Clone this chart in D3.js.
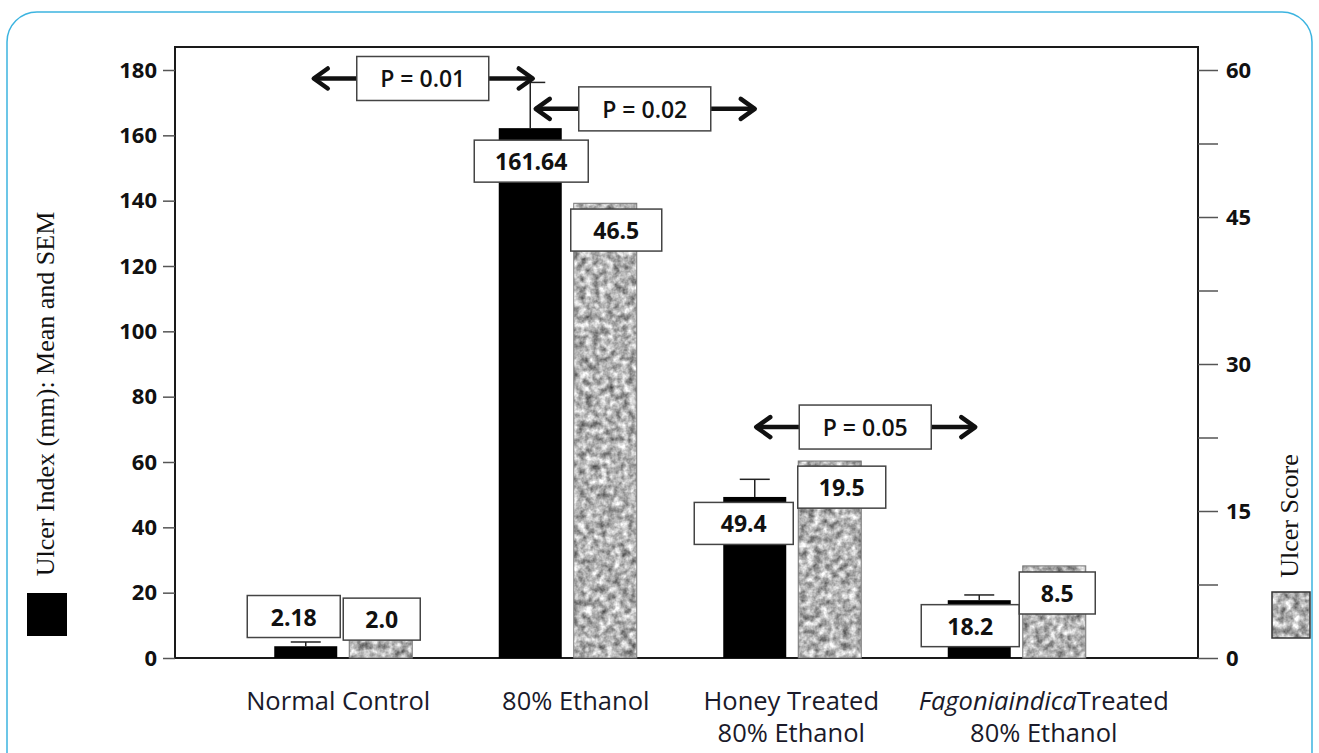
<!DOCTYPE html>
<html>
<head>
<meta charset="utf-8">
<script src="https://cdn.jsdelivr.net/npm/d3@7"></script>
<style>
  body { margin: 0; background: #fff; }
  svg { display: block; }
</style>
</head>
<body>
<div id="chart-area"></div>
<script>
// data
const groups = ['Normal Control', '80% Ethanol', 'Honey Treated|80% Ethanol', 'Fagoniaindica Treated|80% Ethanol'];
const ulcerIndex = [3.6, 162.2, 49.3, 17.7];
const ulcerIndexSEM = [1.3, 14.0, 5.4, 1.6];
const ulcerScore = [2.0, 46.4, 20.1, 9.4];
const indexLabels = ['2.18', '161.64', '49.4', '18.2'];
const scoreLabels = ['2.0', '46.5', '19.5', '8.5'];
const leftTicks = [0, 20, 40, 60, 80, 100, 120, 140, 160, 180];
const rightTicks = [0, 7.5, 15, 22.5, 30, 37.5, 45, 52.5, 60];
const pLabels = ['P = 0.01', 'P = 0.02', 'P = 0.05'];

// annotation placement (group index, px offset from group centre, height on left axis)
const pPlace = [
  { g: 1, dx: -145, y: 177.4 },
  { g: 1, dx: 77, y: 168.1 },
  { g: 2, dx: 73, y: 70.7 }
];
// value box placement: px offset from bar centre, height on left axis, box width
const indexBox = [{ dx: -12, y: 12.7, w: 93 }, { dx: 1, y: 152.1, w: 114 }, { dx: -11, y: 41.2, w: 99 }, { dx: -9, y: 9.9, w: 98 }];
const scoreBox = [{ dx: 1, y: 11.9, w: 77 }, { dx: 11, y: 131, w: 91 }, { dx: 12, y: 52.3, w: 88 }, { dx: 3, y: 19.9, w: 76 }];
const capHalf = [15, 0, 15, 15];
const labelShift = [-5, 8, -1, 27];

const W = 1319, H = 753;
const plot = { left: 175, right: 1198, top: 47, bottom: 658 };

const svg = d3.select('#chart-area')
  .append('svg')
    .attr('width', W)
    .attr('height', H);

const defs = svg.append('defs');
const filt = defs.append('filter')
  .attr('id', 'granite')
  .attr('x', 0).attr('y', 0).attr('width', 1).attr('height', 1)
  .attr('color-interpolation-filters', 'sRGB');
filt.append('feTurbulence')
  .attr('type', 'fractalNoise')
  .attr('baseFrequency', 0.14)
  .attr('numOctaves', 3)
  .attr('seed', 4)
  .attr('result', 'noise');
filt.append('feColorMatrix')
  .attr('in', 'noise')
  .attr('type', 'matrix')
  .attr('values', '1.0 0 0 0 0.2  1.0 0 0 0 0.2  1.0 0 0 0 0.2  0 0 0 0 1')
  .attr('result', 'grey');
filt.append('feComposite')
  .attr('in', 'grey')
  .attr('in2', 'SourceGraphic')
  .attr('operator', 'in');

// card outline
svg.append('rect')
  .attr('x', 7).attr('y', 12)
  .attr('width', 1305).attr('height', 800)
  .attr('rx', 30)
  .attr('fill', 'none')
  .attr('stroke', '#3cb4e0')
  .attr('stroke-width', 1.5);

const x = d3.scaleBand()
  .domain(groups)
  .range([231, 1129]);

const xSub = d3.scaleBand()
  .domain(['index', 'score'])
  .range([-69, 69])
  .paddingInner(0.16);

const yL = d3.scaleLinear().domain([0, 180]).range([plot.bottom, 70]);
const yR = d3.scaleLinear().domain([0, 60]).range([plot.bottom, 70]);

const cx = g => x(groups[g]) + x.bandwidth() / 2;

// frame
svg.append('rect')
  .attr('x', plot.left).attr('y', plot.top)
  .attr('width', plot.right - plot.left)
  .attr('height', plot.bottom - plot.top)
  .attr('fill', 'none')
  .attr('stroke', '#1a1a1a')
  .attr('stroke-width', 2);

// axes
const yAxisL = d3.axisLeft(yL).tickValues(leftTicks).tickSize(12).tickPadding(6);
const yAxisR = d3.axisRight(yR).tickValues(rightTicks).tickSize(20).tickPadding(8)
  .tickFormat(d => d % 15 === 0 ? d : '');

svg.append('g')
  .attr('class', 'y-axis')
  .attr('transform', 'translate(' + plot.left + ',0)')
  .call(yAxisL);
svg.append('g')
  .attr('class', 'y-axis-r')
  .attr('transform', 'translate(' + plot.right + ',0)')
  .call(yAxisR);

svg.selectAll('.y-axis path, .y-axis-r path').remove();
svg.selectAll('.y-axis line, .y-axis-r line').attr('stroke', '#555').attr('stroke-width', 1.5);
svg.selectAll('.y-axis text, .y-axis-r text')
  .attr('font-family', 'Open Sans')
  .attr('font-weight', 700)
  .attr('font-size', '22px')
  .attr('fill', '#111');

// bars
const bars = svg.append('g');
groups.forEach((g, i) => {
  const c = cx(i);
  bars.append('rect')
    .attr('x', c + xSub('index'))
    .attr('y', yL(ulcerIndex[i]))
    .attr('width', xSub.bandwidth())
    .attr('height', yL(0) - yL(ulcerIndex[i]))
    .attr('fill', '#000');

  bars.append('rect')
    .attr('x', c + xSub('score'))
    .attr('y', yR(ulcerScore[i]))
    .attr('width', xSub.bandwidth())
    .attr('height', yR(0) - yR(ulcerScore[i]))
    .attr('fill', '#aaa')
    .attr('filter', 'url(#granite)');
  bars.append('rect')
    .attr('x', c + xSub('score'))
    .attr('y', yR(ulcerScore[i]))
    .attr('width', xSub.bandwidth())
    .attr('height', yR(0) - yR(ulcerScore[i]))
    .attr('fill', 'none')
    .attr('stroke', '#777')
    .attr('stroke-width', 1);

  // SEM whisker
  const bx = c + xSub('index') + xSub.bandwidth() / 2;
  const top = yL(ulcerIndex[i] + ulcerIndexSEM[i]);
  bars.append('line')
    .attr('x1', bx).attr('x2', bx)
    .attr('y1', yL(ulcerIndex[i])).attr('y2', top)
    .attr('stroke', '#222').attr('stroke-width', 1.5);
  bars.append('line')
    .attr('x1', bx - capHalf[i]).attr('x2', bx + 15)
    .attr('y1', top).attr('y2', top)
    .attr('stroke', '#222').attr('stroke-width', 1.5);
});

// value boxes
const boxH = 42;
function valueBox(cxp, yVal, w, label) {
  const yc = yL(yVal);
  const g = svg.append('g');
  g.append('rect')
    .attr('x', cxp - w / 2).attr('y', yc - boxH / 2)
    .attr('width', w).attr('height', boxH)
    .attr('fill', '#fff')
    .attr('stroke', '#444')
    .attr('stroke-width', 1.5);
  g.append('text')
    .attr('x', cxp).attr('y', yc)
    .attr('text-anchor', 'middle')
    .attr('dominant-baseline', 'central')
    .attr('font-family', 'Open Sans')
    .attr('font-weight', 700)
    .attr('font-size', '23px')
    .attr('fill', '#111')
    .text(label);
}
groups.forEach((g, i) => {
  const c = cx(i);
  valueBox(c + xSub('index') + xSub.bandwidth() / 2 + indexBox[i].dx, indexBox[i].y, indexBox[i].w, indexLabels[i]);
  valueBox(c + xSub('score') + xSub.bandwidth() / 2 + scoreBox[i].dx, scoreBox[i].y, scoreBox[i].w, scoreLabels[i]);
});

// P value double arrows
function chevron(g, tx, ty, dir) {
  g.append('path')
    .attr('d', 'M' + (tx - dir * 14) + ',' + (ty - 10) + 'L' + tx + ',' + ty + 'L' + (tx - dir * 14) + ',' + (ty + 10))
    .attr('fill', 'none')
    .attr('stroke', '#111')
    .attr('stroke-width', 4.5)
    .attr('stroke-linecap', 'round')
    .attr('stroke-linejoin', 'round');
}
pLabels.forEach((p, i) => {
  const pc = cx(pPlace[i].g) + pPlace[i].dx;
  const py = yL(pPlace[i].y);
  const g = svg.append('g');
  g.append('line')
    .attr('x1', pc - 109).attr('x2', pc + 110)
    .attr('y1', py).attr('y2', py)
    .attr('stroke', '#111').attr('stroke-width', 4.5);
  chevron(g, pc - 109, py, -1);
  chevron(g, pc + 110, py, 1);
  g.append('rect')
    .attr('x', pc - 66).attr('y', py - 22)
    .attr('width', 132).attr('height', 44)
    .attr('fill', '#fff')
    .attr('stroke', '#444')
    .attr('stroke-width', 1.5);
  g.append('text')
    .attr('x', pc).attr('y', py)
    .attr('text-anchor', 'middle')
    .attr('dominant-baseline', 'central')
    .attr('font-family', 'Open Sans')
    .attr('font-weight', 600)
    .attr('font-size', '23px')
    .attr('fill', '#111')
    .text(p);
});

// x labels
groups.forEach((g, i) => {
  const lines = g.split('|');
  const lx = cx(i) + labelShift[i];
  const t = svg.append('text')
    .attr('x', lx)
    .attr('y', 710)
    .attr('text-anchor', 'middle')
    .attr('font-family', 'Open Sans')
    .attr('font-size', '25.5px')
    .attr('fill', '#1a1a2a');
  lines.forEach((ln, j) => {
    const ts = t.append('tspan')
      .attr('x', lx)
      .attr('dy', j === 0 ? 0 : 32);
    if (ln.startsWith('Fagoniaindica')) {
      ts.append('tspan').attr('font-style', 'italic').text('Fagoniaindica');
      ts.append('tspan').text(ln.replace('Fagoniaindica ', ''));
    } else {
      ts.text(ln);
    }
  });
});

// axis titles and legend swatches
svg.append('text')
  .attr('transform', 'translate(45,394) rotate(-90)')
  .attr('text-anchor', 'middle')
  .attr('dominant-baseline', 'central')
  .attr('font-family', 'Liberation Serif')
  .attr('font-size', '26px')
  .attr('fill', '#111')
  .text('Ulcer Index (mm): Mean and SEM');
svg.append('rect')
  .attr('x', 27).attr('y', 593)
  .attr('width', 40).attr('height', 43)
  .attr('fill', '#000');

svg.append('text')
  .attr('transform', 'translate(1289,516) rotate(-90)')
  .attr('text-anchor', 'middle')
  .attr('dominant-baseline', 'central')
  .attr('font-family', 'Liberation Serif')
  .attr('font-size', '26px')
  .attr('fill', '#111')
  .text('Ulcer Score');
svg.append('rect')
  .attr('x', 1272).attr('y', 592)
  .attr('width', 38).attr('height', 46)
  .attr('fill', '#aaa')
  .attr('filter', 'url(#granite)');
svg.append('rect')
  .attr('x', 1272).attr('y', 592)
  .attr('width', 38).attr('height', 46)
  .attr('fill', 'none')
  .attr('stroke', '#333')
  .attr('stroke-width', 1.5);
</script>
</body>
</html>
